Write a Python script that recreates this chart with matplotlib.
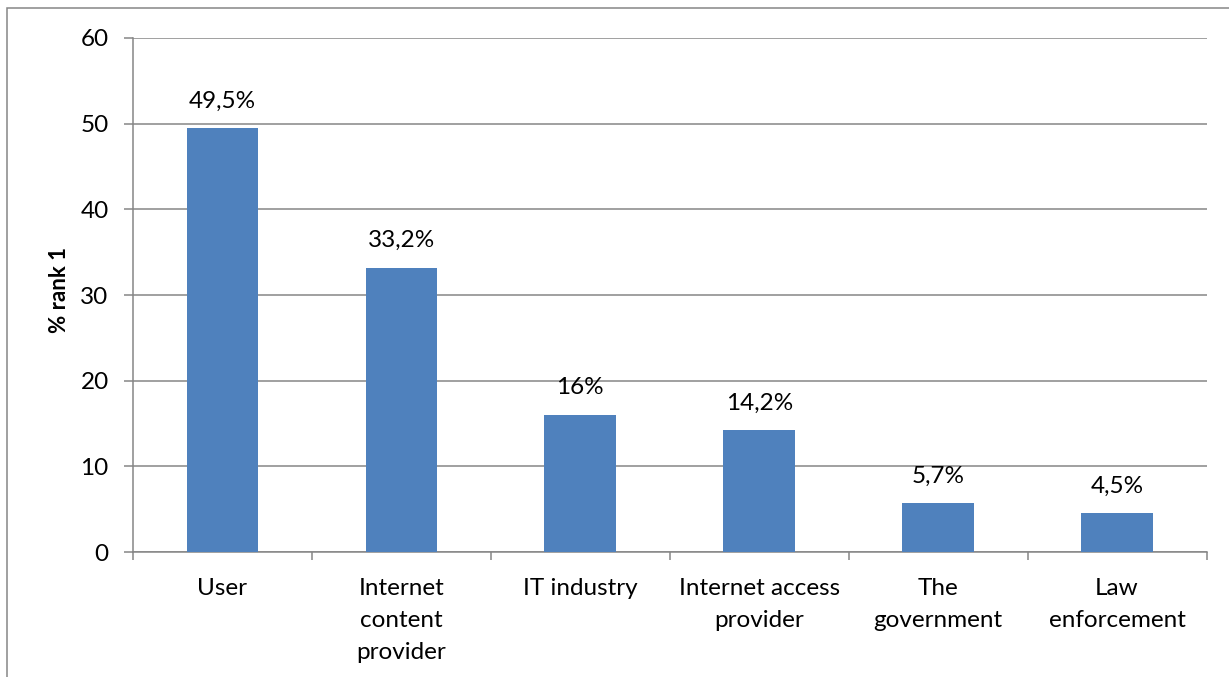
import matplotlib
matplotlib.use('Agg')
import matplotlib.pyplot as plt
from matplotlib.patches import Rectangle

categories = ['User', 'Internet\ncontent\nprovider', 'IT industry',
              'Internet access\nprovider', 'The\ngovernment', 'Law\nenforcement']
values = [49.5, 33.2, 16, 14.2, 5.7, 4.5]
yticks = [0, 10, 20, 30, 40, 50, 60]

plt.rcParams['font.family'] = ['Lato', 'DejaVu Sans']

grey = '#868686'
bar_color = '#4F81BD'
fs = 17.5

fig = plt.figure(figsize=(12.29, 6.77), dpi=100)
ax = fig.add_axes([0.1082, 0.1846, 0.8735, 0.7593])

# chart frame (clipped by the image edge on the right and bottom)
frame = Rectangle((7 / 1229, -0.1), 1.2, 1 - 8 / 677 + 0.1, transform=fig.transFigure,
                  fill=False, edgecolor=grey, linewidth=1.1, clip_on=False)
fig.patches.append(frame)

x = list(range(len(values)))
ax.bar(x, values, width=0.4, color=bar_color, zorder=3)

# value labels above bars
for xi, v in zip(x, values):
    label = (f'{v:g}').replace('.', ',') + '%'
    ax.annotate(label, (xi, v), xytext=(0, 19.5), textcoords='offset points',
                ha='center', va='center', fontsize=fs)

ax.set_xlim(-0.5, len(values) - 0.5)
ax.set_ylim(0, 60)
ax.set_yticks(yticks)
ax.yaxis.grid(True, color=grey, linewidth=1.1, zorder=0)
ax.set_axisbelow(True)

# category labels at centres, boundary ticks as minor ticks
ax.set_xticks(x)
ax.set_xticklabels(categories, fontsize=fs, linespacing=1.63, va='top')
ax.set_xticks([i - 0.5 for i in range(len(values) + 1)], minor=True)
ax.tick_params(axis='x', which='major', length=0, pad=19)
ax.tick_params(axis='x', which='minor', length=6, width=1.1, color=grey, direction='out')
ax.tick_params(axis='y', length=6.5, width=1.1, color=grey, direction='out',
               labelsize=fs, pad=11)

for side in ['top', 'right']:
    ax.spines[side].set_visible(False)
for side in ['left', 'bottom']:
    ax.spines[side].set_color(grey)
    ax.spines[side].set_linewidth(1.1)

ax.set_ylabel('% rank 1', fontsize=16, fontweight='bold')
ax.yaxis.set_label_coords(-0.059, 0.51)

fig.savefig('out.png', dpi=100)
